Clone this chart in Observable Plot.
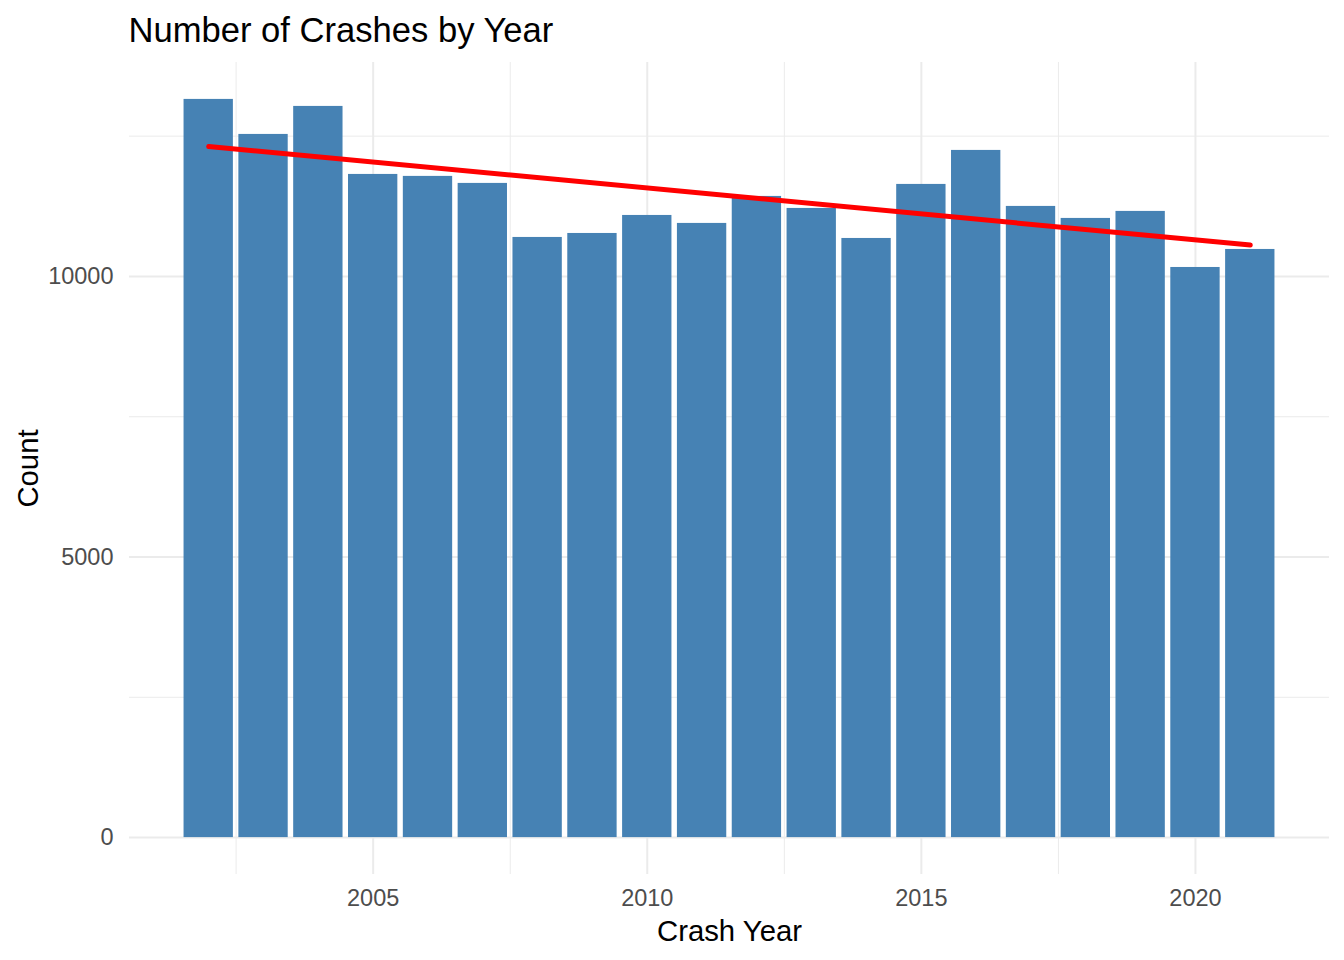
<!DOCTYPE html>
<html>
<head>
<meta charset="utf-8">
<script src="https://cdn.jsdelivr.net/npm/d3@7"></script>
<script src="https://cdn.jsdelivr.net/npm/@observablehq/plot@0.6"></script>
<style>
  html, body { margin: 0; padding: 0; background: #fff; }
  #chart svg { display: block; }
</style>
</head>
<body>
<div id="chart"></div>
<script>
const years = [2002, 2003, 2004, 2005, 2006, 2007, 2008, 2009, 2010, 2011,
               2012, 2013, 2014, 2015, 2016, 2017, 2018, 2019, 2020, 2021];
const counts = [13155, 12531, 13030, 11818, 11783, 11658, 10695, 10766, 11087, 10945,
                11426, 11212, 10677, 11640, 12246, 11248, 11034, 11159, 10160, 10481];
const yTicks = [0, 5000, 10000];
const yMinor = [2500, 7500, 12500];
const xTicks = [2005, 2010, 2015, 2020];
const xMinor = [2002.5, 2007.5, 2012.5, 2017.5];
const title = "Number of Crashes by Year";
const xLabel = "Crash Year";
const yLabel = "Count";

const data = years.map((year, i) => ({ year, count: counts[i] }));

const barHalf = 0.45;
const xLo = d3.min(years) - barHalf, xHi = d3.max(years) + barHalf;
const xPad = (xHi - xLo) * 0.05;
const yMax = d3.max(counts);
const yPad = yMax * 0.05;

const font = "'Liberation Sans', Arial, Helvetica, sans-serif";
const grid = "#EBEBEB";

const chart = Plot.plot({
  width: 1344,
  height: 960,
  marginLeft: 129,
  marginRight: 15,
  marginTop: 62,
  marginBottom: 86,
  style: { fontFamily: font, fontSize: "23.5px", background: "#fff" },
  x: { type: "linear", domain: [xLo - xPad, xHi + xPad] },
  y: { domain: [-yPad, yMax + yPad] },
  marks: [
    Plot.gridY(yMinor, { stroke: grid, strokeOpacity: 1, strokeWidth: 1 }),
    Plot.gridX(xMinor, { stroke: grid, strokeOpacity: 1, strokeWidth: 1 }),
    Plot.gridY(yTicks, { stroke: grid, strokeOpacity: 1, strokeWidth: 2 }),
    Plot.gridX(xTicks, { stroke: grid, strokeOpacity: 1, strokeWidth: 2 }),
    Plot.rectY(data, {
      x1: d => d.year - barHalf,
      x2: d => d.year + barHalf,
      y: "count",
      fill: "#4682B4"
    }),
    Plot.linearRegressionY(data, { x: "year", y: "count", stroke: "#FF0000", strokeWidth: 5, ci: 0 }),
    Plot.axisY({ ticks: yTicks, tickSize: 0, tickPadding: 16, tickFormat: "d", color: "#4D4D4D", fontSize: 23.5, label: null }),
    Plot.axisX({ ticks: xTicks, tickSize: 0, tickPadding: 15, tickFormat: "d", color: "#4D4D4D", fontSize: 23.5, label: null }),
    Plot.text([title], { frameAnchor: "top-left", dx: -1, dy: -21, lineAnchor: "bottom", textAnchor: "start", fontSize: 34.6, fill: "#000" }),
    Plot.text([xLabel], { frameAnchor: "bottom", dy: 66, lineAnchor: "bottom", textAnchor: "middle", fontSize: 29.3, fill: "#000" }),
    Plot.text([yLabel], { frameAnchor: "left", dx: -92, rotate: -90, lineAnchor: "bottom", textAnchor: "middle", fontSize: 29.3, fill: "#000" })
  ]
});
document.getElementById("chart").appendChild(chart);
</script>
</body>
</html>
